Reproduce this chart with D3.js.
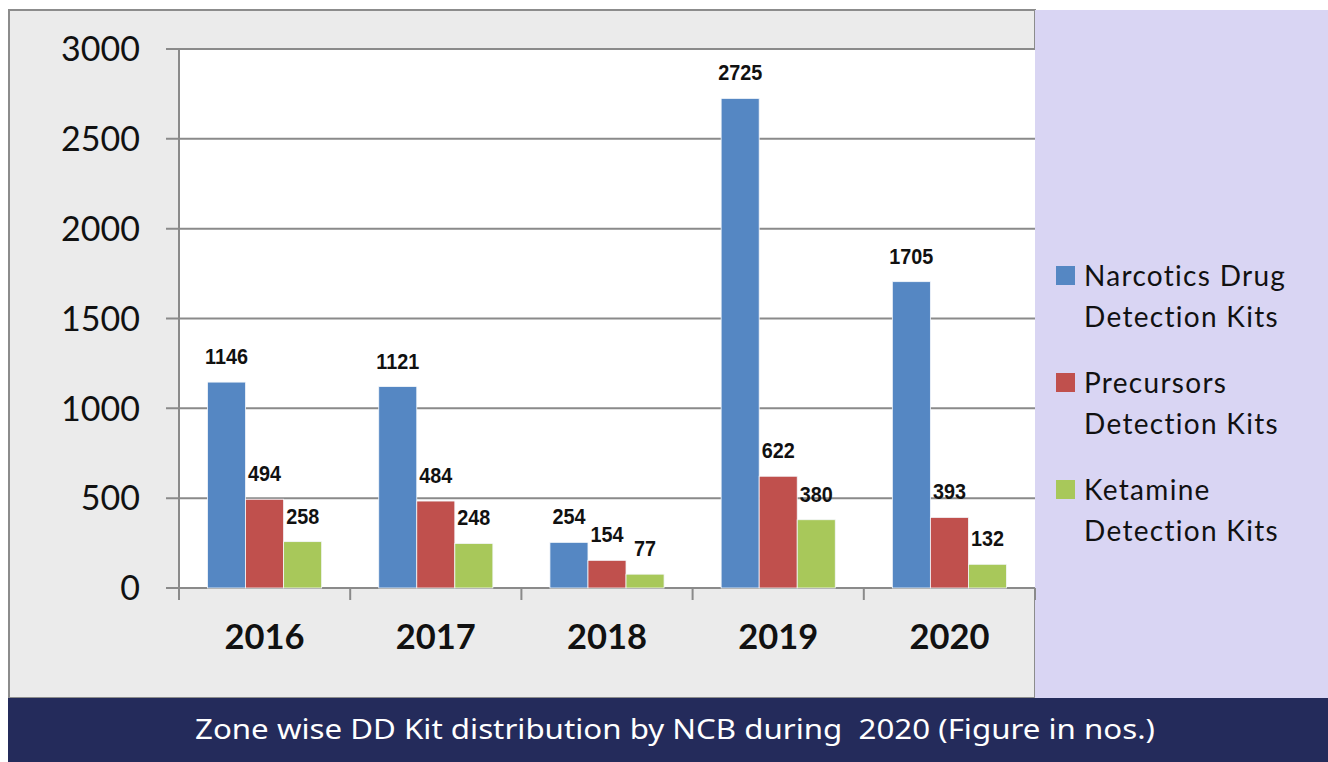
<!DOCTYPE html>
<html>
<head>
<meta charset="utf-8">
<script src="https://cdn.jsdelivr.net/npm/d3@7"></script>
<style>
  html, body { margin: 0; padding: 0; background: #fff; }
  svg { display: block; }
</style>
</head>
<body>
<div id="chart"></div>
<script>
  'use strict';

  // data
  var years = ['2016', '2017', '2018', '2019', '2020'];
  var seriesNames = [
    ['Narcotics Drug', 'Detection Kits'],
    ['Precursors', 'Detection Kits'],
    ['Ketamine', 'Detection Kits']
  ];
  var narcotics = [1146, 1121, 254, 2725, 1705];
  var precursors = [494, 484, 154, 622, 393];
  var ketamine = [258, 248, 77, 380, 132];
  var yTicks = [0, 500, 1000, 1500, 2000, 2500, 3000];
  var colors = ['#5587C3', '#C0504D', '#A8C85A'];
  var caption = 'Zone wise DD Kit distribution by NCB during \u00a02020 (Figure in nos.)';

  var W = 1328, H = 762,
      plot = { left: 179, right: 1035, top: 49, bottom: 588 };

  var svg = d3.select('#chart').append('svg')
    .attr('width', W)
    .attr('height', H);

  // background panels
  svg.append('rect')
    .attr('x', 9).attr('y', 10)
    .attr('width', 1026).attr('height', 688)
    .attr('fill', '#EBEBEB')
    .attr('stroke', '#8C8C8C')
    .attr('stroke-width', 2);

  svg.append('rect')
    .attr('x', 1035).attr('y', 10)
    .attr('width', W - 1035).attr('height', 688)
    .attr('fill', '#D9D5F3');

  svg.append('rect')
    .attr('x', 8).attr('y', 698)
    .attr('width', W - 8).attr('height', H - 698)
    .attr('fill', '#242B5B');

  svg.append('text')
    .attr('x', 675).attr('y', 739)
    .attr('text-anchor', 'middle')
    .attr('fill', '#fff')
    .attr('font-family', 'Noto Sans, sans-serif')
    .attr('font-size', 28)
    .attr('textLength', 960)
    .attr('lengthAdjust', 'spacingAndGlyphs')
    .text(caption);

  // plot area
  svg.append('rect')
    .attr('x', plot.left).attr('y', plot.top)
    .attr('width', plot.right - plot.left)
    .attr('height', plot.bottom - plot.top)
    .attr('fill', '#fff');

  var x0 = d3.scaleBand()
    .domain(years)
    .range([plot.left, plot.right])
    .paddingInner(0)
    .paddingOuter(0);

  // Excel style: gap width 150% -> bar = band / 4.5
  var barW = x0.bandwidth() / 4.5;
  var x1 = d3.scaleBand()
    .domain([0, 1, 2])
    .range([barW * 0.75, barW * 3.75]);

  var y = d3.scaleLinear()
    .domain([0, 3000])
    .range([plot.bottom, plot.top]);

  // gridlines
  svg.append('g')
    .selectAll('line')
    .data(yTicks)
    .enter()
    .append('line')
      .attr('x1', plot.left - 13)
      .attr('x2', plot.right)
      .attr('y1', function (d) { return y(d); })
      .attr('y2', function (d) { return y(d); })
      .attr('stroke', '#8A8A8A')
      .attr('stroke-width', 2);

  // y axis line
  svg.append('line')
    .attr('x1', plot.left).attr('x2', plot.left)
    .attr('y1', plot.top).attr('y2', plot.bottom + 12)
    .attr('stroke', '#8A8A8A')
    .attr('stroke-width', 2);

  // y tick labels
  svg.append('g')
    .selectAll('text')
    .data(yTicks)
    .enter()
    .append('text')
      .attr('x', 140)
      .attr('y', function (d) { return y(d); })
      .attr('dy', '0.36em')
      .attr('text-anchor', 'end')
      .attr('font-family', 'Lato, sans-serif')
      .attr('font-size', 34)
      .attr('fill', '#111')
      .text(function (d) { return d; });

  // category ticks
  var catEdges = years.map(function (d) { return x0(d) + x0.bandwidth(); });
  svg.append('g')
    .selectAll('line')
    .data(catEdges)
    .enter()
    .append('line')
      .attr('x1', function (d) { return d; })
      .attr('x2', function (d) { return d; })
      .attr('y1', plot.bottom)
      .attr('y2', plot.bottom + 12)
      .attr('stroke', '#8A8A8A')
      .attr('stroke-width', 2);

  // category labels
  svg.append('g')
    .selectAll('text')
    .data(years)
    .enter()
    .append('text')
      .attr('x', function (d) { return x0(d) + x0.bandwidth() / 2; })
      .attr('y', 649)
      .attr('text-anchor', 'middle')
      .attr('font-family', 'Lato, sans-serif')
      .attr('font-weight', 'bold')
      .attr('font-size', 34.5)
      .attr('fill', '#111')
      .text(function (d) { return d; });

  // bars
  var rows = years.map(function (yr, i) {
    return { year: yr, values: [narcotics[i], precursors[i], ketamine[i]] };
  });

  var groups = svg.append('g')
    .selectAll('g')
    .data(rows)
    .enter()
    .append('g')
      .attr('transform', function (d) { return 'translate(' + x0(d.year) + ',0)'; });

  groups.selectAll('rect')
    .data(function (d) { return d.values; })
    .enter()
    .append('rect')
      .attr('x', function (d, i) { return x1(i); })
      .attr('y', function (d) { return y(d); })
      .attr('width', x1.bandwidth())
      .attr('height', function (d) { return plot.bottom - y(d); })
      .attr('fill', function (d, i) { return colors[i]; })
      .attr('stroke', '#F4F7FB')
      .attr('stroke-width', 0.8);

  // value labels, squeezed a little to look like a narrow face
  groups.selectAll('text')
    .data(function (d) { return d.values; })
    .enter()
    .append('text')
      .attr('transform', function (d, i) {
        return 'translate(' + (x1(i) + x1.bandwidth() / 2) + ',' + (y(d) - 18) + ') scale(0.9,1)';
      })
      .attr('text-anchor', 'middle')
      .attr('font-family', 'Liberation Sans, Arial, sans-serif')
      .attr('font-weight', 'bold')
      .attr('font-size', 22)
      .attr('fill', '#111')
      .text(function (d) { return d; });

  // legend
  var legend = svg.append('g')
    .selectAll('g')
    .data(seriesNames)
    .enter()
    .append('g')
      .attr('transform', function (d, i) { return 'translate(1056,' + (266 + i * 107) + ')'; });

  legend.append('rect')
    .attr('width', 19).attr('height', 19)
    .attr('fill', function (d, i) { return colors[i]; });

  legend.selectAll('text')
    .data(function (d) { return d; })
    .enter()
    .append('text')
      .attr('x', 28)
      .attr('y', function (d, i) { return 20 + i * 41; })
      .attr('font-family', 'Lato, sans-serif')
      .attr('font-size', 28)
      .attr('letter-spacing', 1.3)
      .attr('fill', '#111')
      .text(function (d) { return d; });
</script>
</body>
</html>
